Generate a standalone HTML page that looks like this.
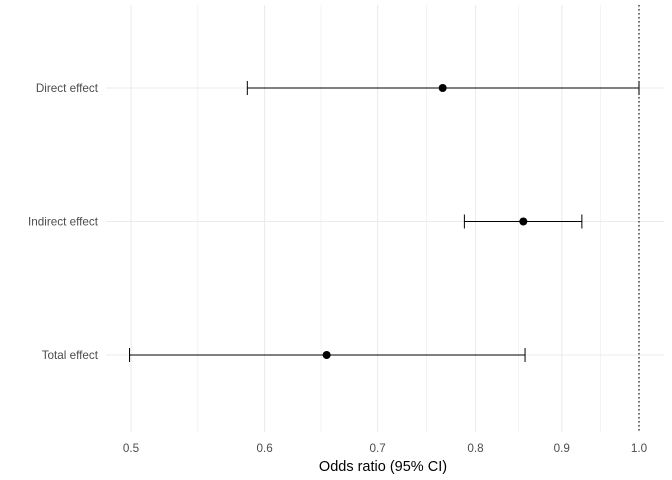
<!DOCTYPE html>
<html><head><meta charset="utf-8"><style>
html,body{margin:0;padding:0;background:#fff;}
svg{display:block;font-family:"Liberation Sans",sans-serif;}
</style></head><body>
<svg id="chart" width="672" height="480" viewBox="0 0 672 480"></svg>
<script>
const categories = ["Direct effect","Indirect effect","Total effect"];
const estimates = [0.765, 0.854, 0.653];
const lowerCI = [0.586, 0.788, 0.499];
const upperCI = [1.0, 0.925, 0.856];
const majorTicks = [0.5,0.6,0.7,0.8,0.9,1.0];
const tickLabels = ["0.5","0.6","0.7","0.8","0.9","1.0"];
const refValue = 1.0;

const NS="http://www.w3.org/2000/svg";
const svg=document.getElementById('chart');
const px0=131, px1=639, lmin=Math.log(0.5), lmax=Math.log(1.0);
function x(v){return px0+(Math.log(v)-lmin)/(lmax-lmin)*(px1-px0);}
const rowY0=88, rowStep=133.5;
function y(i){return rowY0+i*rowStep;}
const panel={l:106,r:664,t:5,b:432};
function el(tag,attrs,parent){const e=document.createElementNS(NS,tag);for(const k in attrs)e.setAttribute(k,attrs[k]);(parent||svg).appendChild(e);return e;}

for(let i=0;i<majorTicks.length-1;i++){
  const mx=(x(majorTicks[i])+x(majorTicks[i+1]))/2;
  const g=el('line',{x1:mx,x2:mx,y1:panel.t,y2:panel.b,stroke:'#f0f0f0','stroke-width':0.8});
  
  
}
majorTicks.forEach((t,i)=>{
  const g=el('line',{x1:x(t),x2:x(t),y1:panel.t,y2:panel.b,stroke:'#ebebeb','stroke-width':1.1});
  
  
  const tx=el('text',{x:x(t),y:452,'text-anchor':'middle','font-size':11.7,fill:'#4d4d4d'});
  tx.textContent=tickLabels[i];
  
  
});
categories.forEach((c,i)=>{
  const g=el('line',{x1:panel.l,x2:panel.r,y1:y(i),y2:y(i),stroke:'#ebebeb','stroke-width':1.1});
  
  
  const tx=el('text',{x:98,y:y(i)+4,'text-anchor':'end','font-size':11.7,fill:'#4d4d4d'});
  tx.textContent=c;
  
  
});
const ref=el('line',{x1:x(refValue),x2:x(refValue),y1:panel.t,y2:panel.b,stroke:'#000','stroke-width':1.1,'stroke-dasharray':'1.5,2.5'});


categories.forEach((c,i)=>{
  const gy=y(i);
  const grp=el('g',{});
  
  
  el('line',{x1:x(lowerCI[i]),x2:x(upperCI[i]),y1:gy,y2:gy,stroke:'#000','stroke-width':1},grp);
  el('line',{x1:x(lowerCI[i]),x2:x(lowerCI[i]),y1:gy-7,y2:gy+7,stroke:'#000','stroke-width':1},grp);
  el('line',{x1:x(upperCI[i]),x2:x(upperCI[i]),y1:gy-7,y2:gy+7,stroke:'#000','stroke-width':1},grp);
  const p=el('circle',{cx:x(estimates[i]),cy:gy,r:4,fill:'#000'});
  
  
});
const title=el('text',{x:383,y:471,'text-anchor':'middle','font-size':14.5,fill:'#000'});
title.textContent='Odds ratio (95% CI)';


</script>
</body></html>
